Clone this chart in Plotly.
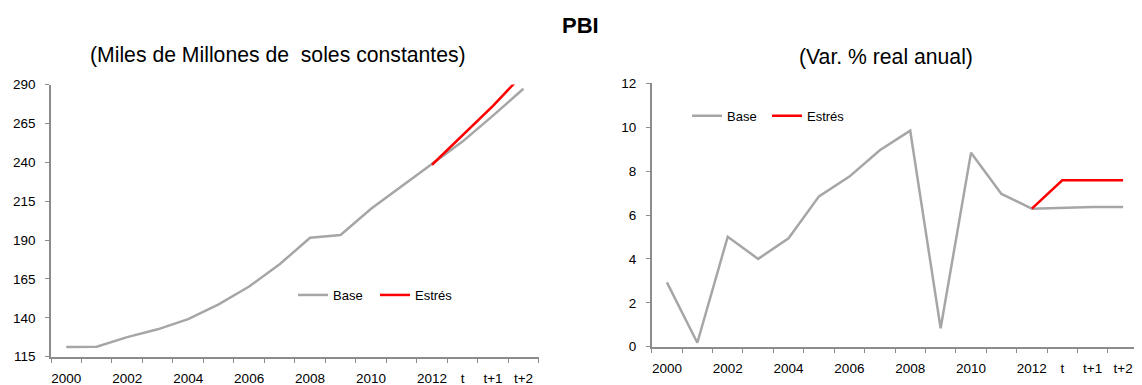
import plotly.graph_objects as go

categories = ["2000", "2001", "2002", "2003", "2004", "2005", "2006", "2007",
              "2008", "2009", "2010", "2011", "2012", "t", "t+1", "t+2"]
tick_labels = ["2000", "", "2002", "", "2004", "", "2006", "", "2008", "",
               "2010", "", "2012", "t", "t+1", "t+2"]

# Left: level (Miles de Millones de soles constantes)
level_base = [121.3, 121.4, 127.6, 132.6, 139.1, 148.6, 160.1, 174.4,
              191.5, 193.2, 210.1, 224.5, 238.4, 253.3, 270.0, 287.3]
level_stress_cats = ["2012", "t", "t+1", "t+2"]
level_stress = [238.4, 257.0, 276.2, 297.0]

# Right: growth (Var. % real anual)
growth_base = [2.93, 0.18, 5.01, 4.0, 4.94, 6.85, 7.75, 8.95,
               9.84, 0.84, 8.84, 6.96, 6.29, 6.33, 6.36, 6.36]
growth_stress_cats = ["2012", "t", "t+1", "t+2"]
growth_stress = [6.29, 7.58, 7.58, 7.58]

left_yticks = [115, 140, 165, 190, 215, 240, 265, 290]
right_yticks = [0, 2, 4, 6, 8, 10, 12]

GRAY = "#a6a6a6"
RED = "#ff0000"
AXIS = "#8c8c8c"
SANS = "Liberation Sans, Arial, sans-serif"
TICKFONT = dict(family=SANS, size=13.5, color="#000000")

fig = go.Figure()
fig.add_trace(go.Scatter(x=categories, y=level_base, mode="lines", name="Base",
                         line=dict(color=GRAY, width=2.5), xaxis="x", yaxis="y",
                         legend="legend"))
fig.add_trace(go.Scatter(x=level_stress_cats, y=level_stress, mode="lines", name="Estrés",
                         line=dict(color=RED, width=2.5), xaxis="x", yaxis="y",
                         legend="legend"))
fig.add_trace(go.Scatter(x=categories, y=growth_base, mode="lines", name="Base",
                         line=dict(color=GRAY, width=2.5), xaxis="x2", yaxis="y2",
                         legend="legend2"))
fig.add_trace(go.Scatter(x=growth_stress_cats, y=growth_stress, mode="lines", name="Estrés",
                         line=dict(color=RED, width=2.5), xaxis="x2", yaxis="y2",
                         legend="legend2"))

xcommon = dict(type="category", categoryorder="array", categoryarray=categories,
               tickmode="array", tickvals=categories, ticktext=tick_labels,
               tickson="boundaries", ticks="outside", ticklen=5, tickcolor=AXIS,
               tickwidth=1, tickangle=0, automargin=False, ticklabelstandoff=8,
               showline=True, linecolor=AXIS, linewidth=1.5, showgrid=False,
               zeroline=False, tickfont=TICKFONT, range=[-0.5, 15.5])
ycommon = dict(ticks="outside", ticklen=4, tickcolor=AXIS, tickwidth=1, showline=True,
               automargin=False, ticklabelstandoff=7,
               linecolor=AXIS, linewidth=1.5, showgrid=False, zeroline=False,
               tickfont=TICKFONT)

# page body has an 8px margin: figure is laid out in (screen - 8) coordinates
W, H = 1134, 377
fig.update_layout(
    template="none",
    width=W, height=H,
    margin=dict(l=0, r=0, t=0, b=0, pad=0),
    paper_bgcolor="white", plot_bgcolor="white",
    xaxis=dict(domain=[43 / W, 530.7 / W], anchor="y", **xcommon),
    yaxis=dict(domain=[1 - 348.7 / H, 1 - 76.5 / H], anchor="x", range=[115, 290],
               tickvals=left_yticks, **ycommon),
    xaxis2=dict(domain=[643.7 / W, 1130.3 / W], anchor="y2", **xcommon),
    yaxis2=dict(domain=[1 - 338.7 / H, 1 - 75.3 / H], anchor="x2", range=[0, 12],
                tickvals=right_yticks, **ycommon),
    legend=dict(orientation="h", x=285 / W, y=1 - 287 / H, xanchor="left", yanchor="middle",
                font=dict(family=SANS, size=13, color="#000"),
                itemwidth=30, entrywidth=37, entrywidthmode="pixels",
                bgcolor="rgba(0,0,0,0)", borderwidth=0),
    legend2=dict(orientation="h", x=679 / W, y=1 - 107.7 / H, xanchor="left", yanchor="middle",
                 font=dict(family=SANS, size=13, color="#000"),
                 itemwidth=30, entrywidth=35, entrywidthmode="pixels",
                 bgcolor="rgba(0,0,0,0)", borderwidth=0),
    annotations=[
        dict(text="<b>PBI</b>", x=572 / W, y=1 - 18 / H, xref="paper", yref="paper",
             showarrow=False, xanchor="center", yanchor="middle",
             font=dict(family=SANS, size=22, color="#000")),
        dict(text="(Miles de Millones de  soles constantes)", x=269.5 / W, y=1 - 47 / H,
             xref="paper", yref="paper", showarrow=False, xanchor="center", yanchor="middle",
             font=dict(family=SANS, size=21.2, color="#000")),
        dict(text="(Var. % real anual)", x=878 / W, y=1 - 49 / H,
             xref="paper", yref="paper", showarrow=False, xanchor="center", yanchor="middle",
             font=dict(family=SANS, size=21.2, color="#000")),
    ],
)

fig.write_html("out.html")
